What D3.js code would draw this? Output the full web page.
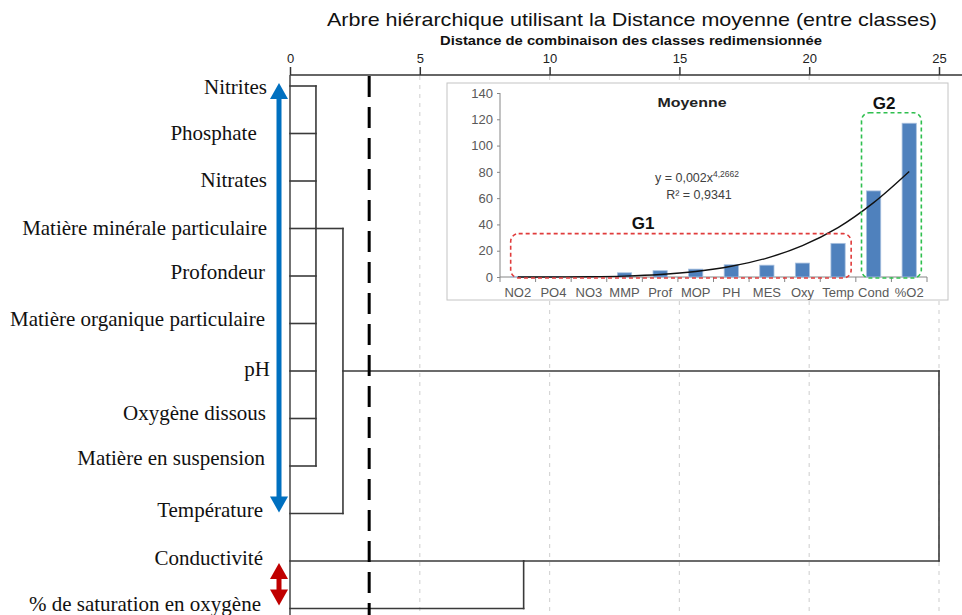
<!DOCTYPE html>
<meta charset="utf-8">

<script src="https://d3js.org/d3.v7.min.js"></script>

<style type="text/css">

    body {
        margin: 0;
        background: #fff;
    }

    .axis path {
        display: none;
    }

    .inset .axis text {
        font-family: "Liberation Sans", Arial, sans-serif;
        font-size: 13px;
        fill: #595959;
    }

</style>

<body>
</body>

<script>

// Data: dendrogram leaves (top to bottom)
var leafNames = ["Nitrites", "Phosphate ", "Nitrates", "Matière minérale particulaire", "Profondeur",
    "Matière organique particulaire", "pH", "Oxygène dissous", "Matière en suspension",
    "Température", "Conductivité", "% de saturation en oxygène"];

// merges: children are leaf indexes or cluster names, distance on rescaled axis
var clusters = [
    {name: "A", children: [0, 1, 2, 3, 4, 5, 6, 7, 8], distance: 1.0, joinRow: 3},
    {name: "B", children: ["A", 9], distance: 2.04},
    {name: "C", children: [10, 11], distance: 9.0, joinRow: 10},
    {name: "root", children: ["B", "C"], distance: 25}
];

var distanceTicks = [0, 5, 10, 15, 20, 25];
var cutDistance = 3.05;

// Data: inset bar chart (Moyenne)
var categories = ["NO2", "PO4", "NO3", "MMP", "Prof", "MOP", "PH", "MES", "Oxy", "Temp", "Cond", "%O2"];
var means = [0.4, 0.3, 0.5, 3.2, 4.8, 6.0, 9.3, 9.0, 10.6, 25.6, 65.5, 117];
var trend = [0.002, 0.04, 0.2, 0.7, 1.9, 4.2, 8.2, 14.4, 23.9, 37.6, 56.6, 80.3];
var meanTicks = [0, 20, 40, 60, 80, 100, 120, 140];

// layout tweaks for the row labels (pixels)
var labelRight = [267, 262, 267, 267, 265, 265, 270, 266, 265, 263, 263, 261];
var labelShift = [1, -1, -1, -1, -4, -5, -2, -6, -8, -4, -3, -5];

var width = 962, height = 615;

var svg = d3.select("body").append("svg")
    .attr("width", width)
    .attr("height", height);

// Titles
svg.append("text")
    .attr("x", 632)
    .attr("y", 26)
    .attr("text-anchor", "middle")
    .attr("textLength", 610)
    .attr("lengthAdjust", "spacingAndGlyphs")
    .style("font-family", "'Liberation Sans', Arial, sans-serif")
    .style("font-size", "19px")
    .style("fill", "#111")
    .text("Arbre hiérarchique utilisant la Distance moyenne (entre classes)");

svg.append("text")
    .attr("x", 631)
    .attr("y", 45)
    .attr("text-anchor", "middle")
    .attr("textLength", 382)
    .attr("lengthAdjust", "spacingAndGlyphs")
    .style("font-family", "'Liberation Sans', Arial, sans-serif")
    .style("font-size", "12px")
    .style("font-weight", "bold")
    .style("fill", "#111")
    .text("Distance de combinaison des classes redimensionnée");

// Scales for the dendrogram
var xScale = d3.scaleLinear()
    .domain([0, 25])
    .range([290, 939]);

var rowScale = d3.scaleLinear()
    .domain([0, leafNames.length - 1])
    .range([86, 608.5]);

var axisY = 75;

// light dashed grid lines
svg.selectAll(".grid")
    .data(distanceTicks.filter(function(d) { return d > 0; }))
    .enter()
    .append("line")
    .attr("class", "grid")
    .attr("x1", function(d) { return xScale(d); })
    .attr("x2", function(d) { return xScale(d); })
    .attr("y1", axisY + 1)
    .attr("y2", height)
    .style("stroke", "#d6d6d6")
    .style("stroke-width", 1.2)
    .style("stroke-dasharray", "4,5");

// top axis
var xAxis = d3.axisTop(xScale)
    .tickValues(distanceTicks)
    .tickSize(8)
    .tickPadding(4);

var xAxisGroup = svg.append("g")
    .attr("class", "x axis")
    .attr("transform", "translate(0," + axisY + ")")
    .call(xAxis);

xAxisGroup.selectAll("line")
    .style("stroke", "#333")
    .style("stroke-width", 1.5);

xAxisGroup.selectAll("text")
    .style("font-family", "'Liberation Sans', Arial, sans-serif")
    .style("font-size", "13px")
    .style("fill", "#222");

svg.append("line")
    .attr("x1", xScale(0))
    .attr("x2", width)
    .attr("y1", axisY)
    .attr("y2", axisY)
    .style("stroke", "#333")
    .style("stroke-width", 1.5);

svg.append("line")
    .attr("x1", xScale(0))
    .attr("x2", xScale(0))
    .attr("y1", axisY)
    .attr("y2", height)
    .style("stroke", "#444")
    .style("stroke-width", 1.5);

// Dendrogram branches
var rowOf = {};
var distOf = {};
leafNames.forEach(function(d, i) { rowOf[i] = i; distOf[i] = 0; });

var segments = [];
clusters.forEach(function(c) {
    var rows = c.children.map(function(k) { return rowOf[k]; });
    c.children.forEach(function(k) {
        segments.push({x1: distOf[k], x2: c.distance, y1: rowOf[k], y2: rowOf[k]});
    });
    segments.push({x1: c.distance, x2: c.distance, y1: d3.min(rows), y2: d3.max(rows)});
    rowOf[c.name] = c.joinRow !== undefined ? c.joinRow : (rows[0] + rows[rows.length - 1]) / 2;
    distOf[c.name] = c.distance;
});

svg.selectAll(".branch")
    .data(segments)
    .enter()
    .append("line")
    .attr("class", "branch")
    .attr("x1", function(d) { return xScale(d.x1); })
    .attr("x2", function(d) { return xScale(d.x2); })
    .attr("y1", function(d) { return rowScale(d.y1); })
    .attr("y2", function(d) { return rowScale(d.y2); })
    .style("stroke", "#3a3a3a")
    .style("stroke-width", 1.6)
    .style("stroke-linecap", "square");

// cut line
svg.append("line")
    .attr("x1", xScale(cutDistance))
    .attr("x2", xScale(cutDistance))
    .attr("y1", axisY + 1)
    .attr("y2", height)
    .style("stroke", "#000")
    .style("stroke-width", 3)
    .style("stroke-dasharray", "21,10");

// Row labels
svg.selectAll(".leaf")
    .data(leafNames)
    .enter()
    .append("text")
    .attr("class", "leaf")
    .attr("x", function(d, i) { return labelRight[i]; })
    .attr("y", function(d, i) { return rowScale(i) + labelShift[i]; })
    .attr("dy", "0.35em")
    .attr("text-anchor", "end")
    .style("font-family", "'Liberation Serif', 'Times New Roman', serif")
    .style("font-size", "21px")
    .style("fill", "#111")
    .style("white-space", "pre")
    .text(function(d) { return d; });

// Group arrows (double headed)
function doubleArrow(x, yTop, yBottom, color) {
    var head = 16, half = 9;
    svg.append("line")
        .attr("x1", x).attr("x2", x)
        .attr("y1", yTop + head - 1)
        .attr("y2", yBottom - head + 1)
        .style("stroke", color)
        .style("stroke-width", 5);
    svg.append("path")
        .attr("d", "M" + x + "," + yTop + "L" + (x + half) + "," + (yTop + head) + "L" + (x - half) + "," + (yTop + head) + "Z")
        .style("fill", color);
    svg.append("path")
        .attr("d", "M" + x + "," + yBottom + "L" + (x + half) + "," + (yBottom - head) + "L" + (x - half) + "," + (yBottom - head) + "Z")
        .style("fill", color);
}

doubleArrow(279, rowScale(0) - 3, rowScale(9) - 1, "#0070C0");
doubleArrow(279, rowScale(10) + 2, rowScale(11) - 3, "#C00000");

// Inset bar chart
var inset = svg.append("g").attr("class", "inset");

inset.append("rect")
    .attr("x", 447)
    .attr("y", 83)
    .attr("width", 501)
    .attr("height", 217)
    .style("fill", "#fff")
    .style("stroke", "#c4c4c4")
    .style("stroke-width", 1);

var xb = d3.scaleBand()
    .domain(categories)
    .range([500, 927])
    .paddingInner(0.6)
    .paddingOuter(0.3);

var yb = d3.scaleLinear()
    .domain([0, 140])
    .range([277, 93]);

var yAxisGroup = inset.append("g")
    .attr("class", "y axis")
    .attr("transform", "translate(500,0)")
    .call(d3.axisLeft(yb).tickValues(meanTicks).tickSize(3).tickPadding(4));

yAxisGroup.selectAll("line").style("stroke", "#868686");

inset.append("line")
    .attr("x1", 500).attr("x2", 500)
    .attr("y1", yb(140)).attr("y2", yb(0))
    .style("stroke", "#868686");

var xAxisInset = inset.append("g")
    .attr("class", "x axis")
    .attr("transform", "translate(0," + yb(0) + ")")
    .call(d3.axisBottom(xb).tickSize(0).tickPadding(11));

inset.append("line")
    .attr("x1", 500).attr("x2", 927)
    .attr("y1", yb(0)).attr("y2", yb(0))
    .style("stroke", "#868686");

inset.selectAll(".sep")
    .data(categories.concat(["end"]))
    .enter()
    .append("line")
    .attr("class", "sep")
    .attr("x1", function(d, i) { return 500 + i * xb.step(); })
    .attr("x2", function(d, i) { return 500 + i * xb.step(); })
    .attr("y1", yb(0))
    .attr("y2", yb(0) + 5)
    .style("stroke", "#868686");

inset.selectAll(".bar")
    .data(means)
    .enter()
    .append("rect")
    .attr("class", "bar")
    .attr("x", function(d, i) { return xb(categories[i]); })
    .attr("y", function(d) { return yb(d); })
    .attr("width", xb.bandwidth())
    .attr("height", function(d) { return yb(0) - yb(d); })
    .style("fill", "#4F81BD")
    .style("stroke", "#a9c1df")
    .style("stroke-width", 0.8);

// power trend line
var trendLine = d3.line()
    .x(function(d, i) { return xb(categories[i]) + xb.bandwidth() / 2; })
    .y(function(d) { return yb(d); })
    .curve(d3.curveCatmullRom);

inset.append("path")
    .datum(trend)
    .attr("d", trendLine)
    .style("fill", "none")
    .style("stroke", "#111")
    .style("stroke-width", 1.4);

inset.append("text")
    .attr("x", 692)
    .attr("y", 107)
    .attr("text-anchor", "middle")
    .attr("textLength", 69)
    .attr("lengthAdjust", "spacingAndGlyphs")
    .style("font-family", "'Liberation Sans', Arial, sans-serif")
    .style("font-size", "13px")
    .style("font-weight", "bold")
    .style("fill", "#222")
    .text("Moyenne");

var eq = inset.append("text")
    .attr("x", 697)
    .attr("y", 182)
    .attr("text-anchor", "middle")
    .style("font-family", "'Liberation Sans', Arial, sans-serif")
    .style("font-size", "12.5px")
    .style("fill", "#404040");
eq.append("tspan").text("y = 0,002x");
eq.append("tspan").attr("dy", -5).style("font-size", "8.5px").text("4,2662");

inset.append("text")
    .attr("x", 699)
    .attr("y", 199)
    .attr("text-anchor", "middle")
    .style("font-family", "'Liberation Sans', Arial, sans-serif")
    .style("font-size", "12.5px")
    .style("fill", "#404040")
    .text("R² = 0,9341");

// group boxes
inset.append("rect")
    .attr("x", xb("NO2"))
    .attr("y", yb(33))
    .attr("width", xb("Temp") + xb.bandwidth() + 6 - xb("NO2"))
    .attr("height", yb(0) + 1 - yb(33))
    .attr("rx", 8)
    .style("fill", "none")
    .style("stroke", "#e03c3c")
    .style("stroke-width", 1.6)
    .style("stroke-dasharray", "4,3");

inset.append("rect")
    .attr("x", xb("Cond") - 5)
    .attr("y", yb(125))
    .attr("width", xb("%O2") + xb.bandwidth() + 5 - (xb("Cond") - 5))
    .attr("height", yb(0) + 1 - yb(125))
    .attr("rx", 8)
    .style("fill", "none")
    .style("stroke", "#2fbf4f")
    .style("stroke-width", 1.6)
    .style("stroke-dasharray", "4,3");

inset.append("text")
    .attr("x", 643)
    .attr("y", 229)
    .attr("text-anchor", "middle")
    .style("font-family", "'Liberation Sans', Arial, sans-serif")
    .style("font-size", "17px")
    .style("font-weight", "bold")
    .style("fill", "#111")
    .text("G1");

inset.append("text")
    .attr("x", 884)
    .attr("y", 109)
    .attr("text-anchor", "middle")
    .style("font-family", "'Liberation Sans', Arial, sans-serif")
    .style("font-size", "17px")
    .style("font-weight", "bold")
    .style("fill", "#111")
    .text("G2");

</script>
